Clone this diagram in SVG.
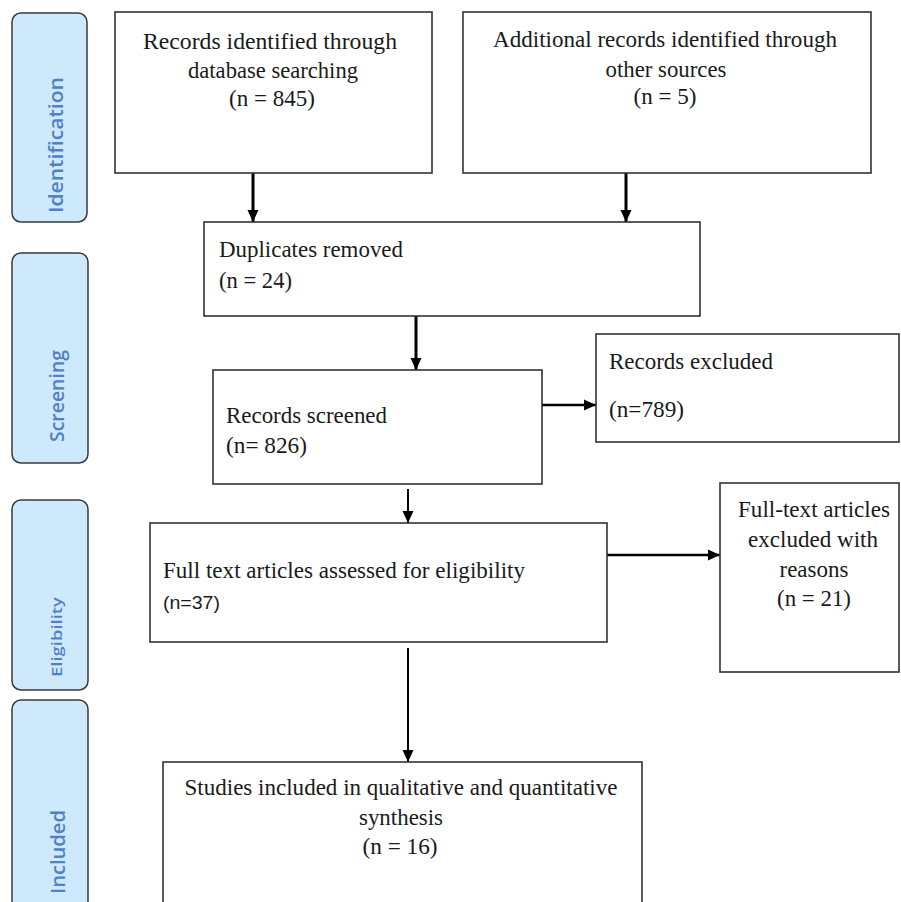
<svg xmlns="http://www.w3.org/2000/svg" width="901" height="902" viewBox="0 0 901 902">
<style>
.bar{fill:#cfe9fc;stroke:#3a3a3a;stroke-width:1.5}
.bt{font-family:"Open Sans","Noto Sans",sans-serif;font-weight:600;fill:#4f81c7}
.box{fill:#ffffff;stroke:#333333;stroke-width:1.6}
.t{font-family:"Liberation Serif","Times New Roman",serif;font-size:22.5px;fill:#1a1a1a}
.c{text-anchor:middle}
.s{font-family:"Liberation Sans",Arial,sans-serif;font-size:18px;fill:#1a1a1a}
.con{stroke:#000;fill:none}
</style>
<defs>
<marker id="ah" markerUnits="userSpaceOnUse" markerWidth="14" markerHeight="14" viewBox="0 0 14 14" refX="12" refY="7" orient="auto">
<path d="M0,1.5 L12,7 L0,12.5 Z" fill="#000"/>
</marker>
</defs>
<rect width="901" height="902" fill="#ffffff"/>
<g id="phase-identification">
<rect class="bar" x="12" y="13" width="75" height="209" rx="9"/>
<text class="bt" font-size="20" transform="translate(63,213) rotate(-90)" textLength="136" lengthAdjust="spacingAndGlyphs">Identification</text>
</g>
<g id="phase-screening">
<rect class="bar" x="12" y="253" width="76" height="210" rx="9"/>
<text class="bt" font-size="20" transform="translate(64,442) rotate(-90)" textLength="92" lengthAdjust="spacingAndGlyphs">Screening</text>
</g>
<g id="phase-eligibility">
<rect class="bar" x="12" y="500" width="76" height="190" rx="9"/>
<text class="bt" font-size="14" transform="translate(62,677) rotate(-90)" textLength="80" lengthAdjust="spacingAndGlyphs">Eligibility</text>
</g>
<g id="phase-included">
<rect class="bar" x="12" y="700" width="76" height="215" rx="9"/>
<text class="bt" font-size="20" transform="translate(65,894) rotate(-90)" textLength="84" lengthAdjust="spacingAndGlyphs">Included</text>
</g>
<g id="connectors">
<line class="con" x1="253" y1="173" x2="253" y2="222" stroke-width="3" marker-end="url(#ah)"/>
<line class="con" x1="626" y1="173" x2="626" y2="222" stroke-width="3" marker-end="url(#ah)"/>
<line class="con" x1="416" y1="316" x2="416" y2="370" stroke-width="3" marker-end="url(#ah)"/>
<line class="con" x1="542" y1="405" x2="596" y2="405" stroke-width="2.5" marker-end="url(#ah)"/>
<line class="con" x1="408" y1="489" x2="408" y2="523" stroke-width="2" marker-end="url(#ah)"/>
<line class="con" x1="607" y1="555" x2="720" y2="555" stroke-width="2.5" marker-end="url(#ah)"/>
<line class="con" x1="408" y1="648" x2="408" y2="762" stroke-width="2" marker-end="url(#ah)"/>
</g>
<g id="records-database">
<rect class="box" x="115" y="12" width="317" height="161"/>
<text class="t c" x="270" y="49" textLength="254" lengthAdjust="spacingAndGlyphs">Records identified through</text>
<text class="t c" x="273" y="78" textLength="170" lengthAdjust="spacingAndGlyphs">database searching</text>
<text class="t c" x="272" y="106" textLength="86" lengthAdjust="spacingAndGlyphs">(n = 845)</text>
</g>
<g id="records-other">
<rect class="box" x="463" y="12" width="408" height="161"/>
<text class="t c" x="665" y="47" textLength="344" lengthAdjust="spacingAndGlyphs">Additional records identified through</text>
<text class="t c" x="666" y="77" textLength="121" lengthAdjust="spacingAndGlyphs">other sources</text>
<text class="t c" x="665" y="104" textLength="63" lengthAdjust="spacingAndGlyphs">(n = 5)</text>
</g>
<g id="duplicates-removed">
<rect class="box" x="204" y="222" width="496" height="94"/>
<text class="t" x="219" y="257" textLength="184" lengthAdjust="spacingAndGlyphs">Duplicates removed</text>
<text class="t" x="219" y="288" textLength="73" lengthAdjust="spacingAndGlyphs">(n = 24)</text>
</g>
<g id="records-screened">
<rect class="box" x="213" y="370" width="329" height="114"/>
<text class="t" x="226" y="423" textLength="161" lengthAdjust="spacingAndGlyphs">Records screened</text>
<text class="t" x="226" y="453" textLength="81" lengthAdjust="spacingAndGlyphs">(n= 826)</text>
</g>
<g id="records-excluded">
<rect class="box" x="596" y="334" width="303" height="108"/>
<text class="t" x="609" y="369" textLength="164" lengthAdjust="spacingAndGlyphs">Records excluded</text>
<text class="t" x="609" y="417" textLength="75" lengthAdjust="spacingAndGlyphs">(n=789)</text>
</g>
<g id="full-text-assessed">
<rect class="box" x="150" y="523" width="457" height="119"/>
<text class="t" x="163" y="578" textLength="362" lengthAdjust="spacingAndGlyphs">Full text articles assessed for eligibility</text>
<text class="s" x="163" y="609" textLength="57" lengthAdjust="spacingAndGlyphs">(n=37)</text>
</g>
<g id="full-text-excluded">
<rect class="box" x="720" y="483" width="179" height="189"/>
<text class="t c" x="814" y="517" textLength="152" lengthAdjust="spacingAndGlyphs">Full-text articles</text>
<text class="t c" x="813" y="547" textLength="130" lengthAdjust="spacingAndGlyphs">excluded with</text>
<text class="t c" x="814" y="577" textLength="69" lengthAdjust="spacingAndGlyphs">reasons</text>
<text class="t c" x="814" y="606" textLength="74" lengthAdjust="spacingAndGlyphs">(n = 21)</text>
</g>
<g id="studies-included">
<rect class="box" x="163" y="762" width="479" height="150"/>
<text class="t c" x="401" y="795" textLength="433" lengthAdjust="spacingAndGlyphs">Studies included in qualitative and quantitative</text>
<text class="t c" x="401" y="825" textLength="84" lengthAdjust="spacingAndGlyphs">synthesis</text>
<text class="t c" x="400" y="854" textLength="75" lengthAdjust="spacingAndGlyphs">(n = 16)</text>
</g>
</svg>
